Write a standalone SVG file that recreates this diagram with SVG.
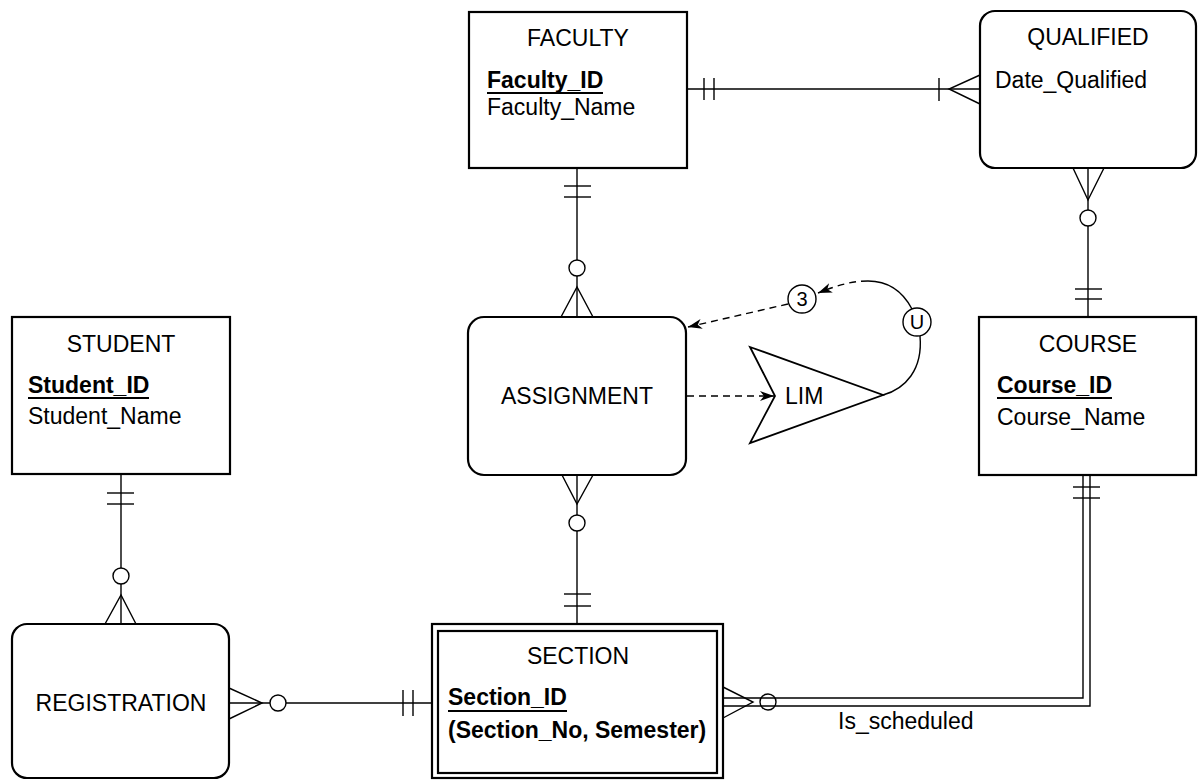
<svg xmlns="http://www.w3.org/2000/svg" width="1198" height="781" viewBox="0 0 1198 781">
<defs>
<style>
.box{fill:#fff;stroke:#000;stroke-width:2.2}
.ln{fill:none;stroke:#000;stroke-width:1.4}
.dash{fill:none;stroke:#000;stroke-width:1.4;stroke-dasharray:7 5}
.circ{fill:#fff;stroke:#000;stroke-width:1.4}
.t{font-family:"Liberation Sans",Arial,sans-serif;font-size:23px;fill:#000}
.c{text-anchor:middle}
.b{font-weight:bold}
.ul{stroke:#000;stroke-width:2}
.small{font-family:"Liberation Sans",Arial,sans-serif;font-size:20px;fill:#000;text-anchor:middle}
</style>
<marker id="arr" markerUnits="userSpaceOnUse" markerWidth="14" markerHeight="10" refX="14" refY="5" orient="auto">
<path d="M0,0 L14,5 L0,10 L4,5 z" fill="#000"/>
</marker>
</defs>

<g id="connectors">
<!-- FACULTY - QUALIFIED -->
<line class="ln" x1="687" y1="89" x2="980" y2="89"/>
<line class="ln" x1="704" y1="78" x2="704" y2="100"/>
<line class="ln" x1="714" y1="78" x2="714" y2="100"/>
<line class="ln" x1="939" y1="78" x2="939" y2="101"/>
<polyline class="ln" points="980,75 949,89 980,104"/>
<!-- FACULTY - ASSIGNMENT -->
<line class="ln" x1="577" y1="168" x2="577" y2="317"/>
<line class="ln" x1="564" y1="186" x2="591" y2="186"/>
<line class="ln" x1="564" y1="197" x2="591" y2="197"/>
<polyline class="ln" points="561,317 577,287 593,317"/>
<circle class="circ" cx="577" cy="268" r="8"/>
<!-- ASSIGNMENT - SECTION -->
<line class="ln" x1="577" y1="475" x2="577" y2="624"/>
<polyline class="ln" points="562,475 577,504 593,475"/>
<circle class="circ" cx="577" cy="523" r="8"/>
<line class="ln" x1="564" y1="594" x2="591" y2="594"/>
<line class="ln" x1="564" y1="606" x2="591" y2="606"/>
<!-- QUALIFIED - COURSE -->
<line class="ln" x1="1088" y1="168" x2="1088" y2="317"/>
<polyline class="ln" points="1073,168 1088,200 1104,168"/>
<circle class="circ" cx="1088" cy="218" r="8"/>
<line class="ln" x1="1075" y1="289" x2="1102" y2="289"/>
<line class="ln" x1="1075" y1="299" x2="1102" y2="299"/>
<!-- STUDENT - REGISTRATION -->
<line class="ln" x1="121" y1="474" x2="121" y2="624"/>
<line class="ln" x1="107" y1="493" x2="134" y2="493"/>
<line class="ln" x1="107" y1="504" x2="134" y2="504"/>
<polyline class="ln" points="105,624 121,595 136,624"/>
<circle class="circ" cx="121" cy="576" r="8"/>
<!-- REGISTRATION - SECTION -->
<line class="ln" x1="229" y1="703" x2="432" y2="703"/>
<polyline class="ln" points="229,688 262,703 229,719"/>
<circle class="circ" cx="278" cy="703" r="8"/>
<line class="ln" x1="403" y1="690" x2="403" y2="716"/>
<line class="ln" x1="413" y1="690" x2="413" y2="716"/>
<!-- COURSE - SECTION (Is_scheduled, double line) -->
<path class="ln" d="M1083,475 V698 H723"/>
<path class="ln" d="M1090,475 V706 H723"/>
<line class="ln" x1="1073" y1="487" x2="1100" y2="487"/>
<line class="ln" x1="1073" y1="498" x2="1100" y2="498"/>
<polyline class="ln" points="723,687 753,702 723,718"/>
<circle class="ln" cx="768" cy="702" r="8"/>
<text class="t" x="838" y="729">Is_scheduled</text>
<!-- ASSIGNMENT -> LIM -->
<line class="dash" x1="687" y1="396" x2="774" y2="396" marker-end="url(#arr)"/>
<!-- LIM arc through U to 3 -->
<path class="ln" d="M883,395 C905,389 923,370 920,336"/>
<path class="ln" d="M912,309 C903,292 888,281 868,281"/>
<path class="dash" d="M868,281 C852,281 838,285 818,293" marker-end="url(#arr)"/>
<!-- 3 -> ASSIGNMENT -->
<line class="dash" x1="788" y1="304" x2="688" y2="327" marker-end="url(#arr)"/>
</g>

<g id="faculty">
<rect class="box" x="469" y="12" width="218" height="156"/>
<text class="t c" x="578" y="46">FACULTY</text>
<text class="t b" x="487" y="88">Faculty_ID</text>
<line class="ul" x1="487" y1="93" x2="603" y2="93"/>
<text class="t" x="487" y="115">Faculty_Name</text>
</g>

<g id="qualified">
<rect class="box" x="980" y="11" width="216" height="157" rx="15"/>
<text class="t c" x="1088" y="45">QUALIFIED</text>
<text class="t" x="995" y="88">Date_Qualified</text>
</g>

<g id="student">
<rect class="box" x="12" y="317" width="218" height="157"/>
<text class="t c" x="121" y="352">STUDENT</text>
<text class="t b" x="28" y="393">Student_ID</text>
<line class="ul" x1="28" y1="398" x2="149" y2="398"/>
<text class="t" x="28" y="424">Student_Name</text>
</g>

<g id="assignment">
<rect class="box" x="468" y="317" width="218" height="158" rx="16"/>
<text class="t c" x="577" y="404">ASSIGNMENT</text>
</g>

<g id="lim">
<polygon class="ln" points="750,347 883,395 750,443 775,396" style="stroke-width:1.8"/>
<text class="t" x="785" y="404">LIM</text>
</g>

<g id="u-node">
<circle class="circ" cx="917" cy="322" r="14"/>
<text class="small" x="917" y="329">U</text>
</g>

<g id="three-node">
<circle class="circ" cx="802" cy="299" r="14"/>
<text class="small" x="802" y="306">3</text>
</g>

<g id="course">
<rect class="box" x="979" y="317" width="217" height="158"/>
<text class="t c" x="1088" y="352">COURSE</text>
<text class="t b" x="997" y="393">Course_ID</text>
<line class="ul" x1="997" y1="398" x2="1112" y2="398"/>
<text class="t" x="997" y="425">Course_Name</text>
</g>

<g id="registration">
<rect class="box" x="12" y="624" width="217" height="154" rx="15"/>
<text class="t c" x="121" y="711">REGISTRATION</text>
</g>

<g id="section">
<rect class="box" x="432" y="624" width="291" height="154"/>
<rect class="box" x="438" y="631" width="279" height="142"/>
<text class="t c" x="578" y="664">SECTION</text>
<text class="t b" x="448" y="705">Section_ID</text>
<line class="ul" x1="448" y1="711" x2="567" y2="711"/>
<text class="t b" x="448" y="738">(Section_No, Semester)</text>
</g>
</svg>
